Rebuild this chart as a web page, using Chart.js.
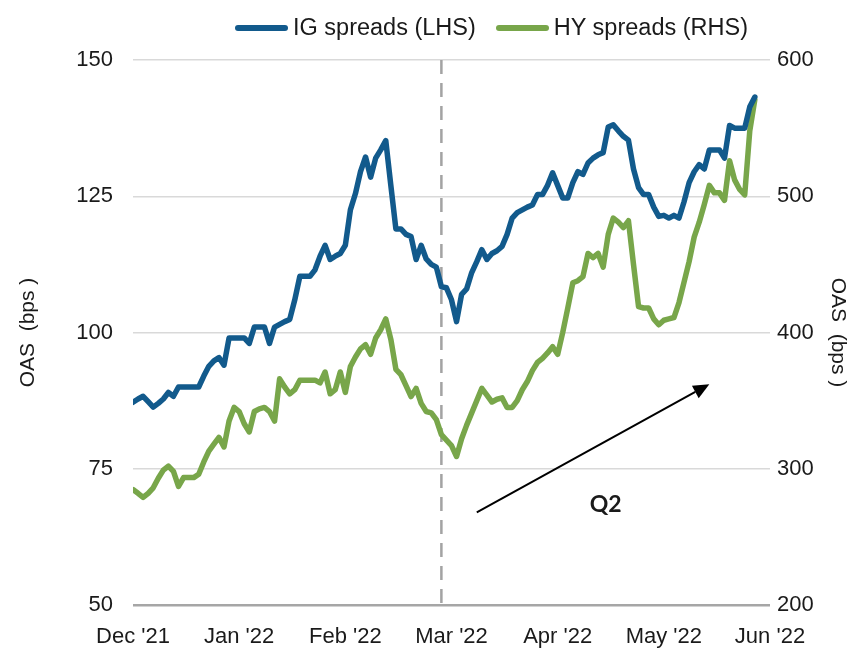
<!DOCTYPE html>
<html>
<head>
<meta charset="utf-8">
<script src="https://cdn.jsdelivr.net/npm/chart.js@4.4.1/dist/chart.umd.min.js"></script>
<style>
  body { margin: 0; background: #fff; }
  #caja { position: relative; width: 850px; height: 648px; }
  #leyenda {
    position: absolute; top: 14px; left: 235px;
    display: flex; align-items: center;
    font: 23.5px "Liberation Sans", Arial, sans-serif;
    color: #1a1a1a; white-space: nowrap;
  }
  .item { display: flex; align-items: center; margin-right: 20px; }
  .linea { width: 53px; height: 6px; border-radius: 3px; margin-right: 5px; }
</style>
</head>
<body>
<div id="caja">
  <canvas id="lienzoGrafica" width="850" height="648"></canvas>
  <div id="leyenda"></div>
</div>
<script>
'use strict';

// ejes
const meses = ["Dec '21", "Jan '22", "Feb '22", "Mar '22", "Apr '22", "May '22", "Jun '22"];
const diasPorMes = 21; // dias habiles aprox. por mes
const ticksIzq = [50, 75, 100, 125, 150];
const ticksDer = [200, 300, 400, 500, 600];

// IG spreads (LHS), bps, un valor por dia habil desde Dec '21
const igOAS = [
  87.2, 87.8, 88.3, 87.3, 86.3, 87, 87.8, 89, 88.3, 90,
  90, 90, 90, 90, 92, 93.8, 94.8, 95.4, 94, 99,
  99, 99, 99, 98, 101, 101, 101, 98, 101, 101.5,
  102, 102.4, 106, 110.3, 110.3, 110.3, 111.5, 114, 116, 113.4,
  114, 114.5, 116, 122.5, 125.5, 129.5, 132.2, 128.5, 132, 133.5,
  135.2, 127, 119, 119, 118, 117.6, 113.4, 116, 113.5, 112.5,
  112, 108.4, 108.2, 106, 102, 107, 108, 111, 113, 115.2,
  113.4, 114.5, 115, 115.8, 118, 121, 122, 122.5, 123, 123.4,
  125.3, 125.3, 127, 129.3, 127, 124.7, 124.7, 127.5, 129.5, 129,
  131.1, 132, 132.6, 133, 137.7, 138.1, 137, 136, 135.3, 130,
  126.6, 125.3, 125.3, 123, 121.3, 121.5, 121, 121.5, 121, 124,
  127.5, 129.5, 130.8, 130, 133.5, 133.5, 133.5, 132, 138, 137.5,
  137.5, 137.5, 141.4, 143.2
];

// HY spreads (RHS), bps
const hyOAS = [
  284.7, 282, 279, 282, 286, 293, 299, 302, 298, 287,
  293.5, 293.5, 293.5, 296, 305, 313, 318, 323, 316, 335,
  345, 342, 333, 327, 342, 344, 345, 342, 335, 366,
  360, 355, 358, 365, 365, 365, 365, 363, 371, 355,
  358, 371, 356, 375, 382, 388, 391, 384, 396, 402,
  410, 395, 373, 369, 361, 353, 359, 348, 342, 341,
  336, 325, 321, 317, 309, 322, 332, 341, 350, 359,
  354, 349, 351, 352, 345, 345, 350, 358, 364, 372,
  378, 381, 385, 389.6, 384, 400, 418, 436.5, 438, 441,
  458, 455, 458, 448, 472, 484, 481, 477, 482, 450,
  419, 418, 418, 410, 405.7, 409, 410, 411, 422, 437,
  452, 470, 481, 494, 508, 502.5, 502.5, 497, 526, 512,
  505, 501, 548, 571
];

// anotaciones (dia habil, valor eje izq.)
const lineaMarzo = 61;
const flechaDesde = [68, 67];
const flechaHasta = [114, 90.5];
const textoQ2 = [93.5, 68.5];

const colorIG = '#125a8c';
const colorHY = '#78a64a';
const fuente = '"Liberation Sans", Arial, sans-serif';

const series = [
  { label: 'IG spreads (LHS)', data: igOAS, color: colorIG, eje: 'y' },
  { label: 'HY spreads (RHS)', data: hyOAS, color: colorHY, eje: 'y1' }
];

// leyenda
const leyenda = document.getElementById('leyenda');
series.forEach(s => {
  const item = document.createElement('div');
  item.className = 'item';
  item.innerHTML = '<span class="linea" style="background:' + s.color + '"></span>' + s.label;
  leyenda.appendChild(item);
});

const extras = {
  id: 'extras',
  beforeDatasetsDraw(chart) {
    const { ctx, chartArea, scales } = chart;
    const px = scales.x.getPixelForValue(lineaMarzo);
    ctx.save();
    ctx.strokeStyle = '#a3a3a3';
    ctx.lineWidth = 2.5;
    ctx.setLineDash([14, 9]);
    ctx.beginPath();
    ctx.moveTo(px, chartArea.top);
    ctx.lineTo(px, chartArea.bottom);
    ctx.stroke();
    ctx.restore();
  },
  afterDatasetsDraw(chart) {
    const { ctx, scales } = chart;
    const x1 = scales.x.getPixelForValue(flechaDesde[0]);
    const y1 = scales.y.getPixelForValue(flechaDesde[1]);
    const x2 = scales.x.getPixelForValue(flechaHasta[0]);
    const y2 = scales.y.getPixelForValue(flechaHasta[1]);
    const ang = Math.atan2(y2 - y1, x2 - x1);
    const largo = 16, ancho = 7;
    ctx.save();
    ctx.strokeStyle = '#000';
    ctx.fillStyle = '#000';
    ctx.lineWidth = 2;
    ctx.beginPath();
    ctx.moveTo(x1, y1);
    ctx.lineTo(x2 - Math.cos(ang) * largo, y2 - Math.sin(ang) * largo);
    ctx.stroke();
    ctx.beginPath();
    ctx.moveTo(x2, y2);
    ctx.lineTo(x2 - Math.cos(ang) * largo + Math.sin(ang) * ancho, y2 - Math.sin(ang) * largo - Math.cos(ang) * ancho);
    ctx.lineTo(x2 - Math.cos(ang) * largo - Math.sin(ang) * ancho, y2 - Math.sin(ang) * largo + Math.cos(ang) * ancho);
    ctx.closePath();
    ctx.fill();

    ctx.font = 'bold 23px Lato, "Open Sans", sans-serif';
    ctx.textAlign = 'center';
    ctx.textBaseline = 'middle';
    ctx.fillStyle = '#1a1a1a';
    ctx.fillText('Q2', scales.x.getPixelForValue(textoQ2[0]), scales.y.getPixelForValue(textoQ2[1]));
    ctx.restore();
  }
};

const ctx = document.getElementById('lienzoGrafica');

new Chart(ctx, {
  type: 'line',
  data: {
    datasets: series.map(s => ({
      label: s.label,
      data: s.data.map((v, i) => ({ x: i, y: v })),
      borderColor: s.color,
      backgroundColor: s.color,
      borderWidth: 5.5,
      pointRadius: 0,
      tension: 0,
      fill: false,
      borderJoinStyle: 'round',
      borderCapStyle: 'round',
      yAxisID: s.eje
    }))
  },
  options: {
    responsive: false,
    animation: false,
    layout: { padding: { top: 60, left: 0, right: 0, bottom: 0 } },
    plugins: {
      legend: { display: false },
      tooltip: { enabled: false }
    },
    scales: {
      x: {
        type: 'linear',
        min: 0,
        max: (meses.length - 1) * diasPorMes,
        afterBuildTicks: (scale) => {
          scale.ticks = meses.map((m, i) => ({ value: i * diasPorMes }));
        },
        afterFit: (scale) => { scale.height = 43; },
        grid: { display: false },
        border: { display: false },
        ticks: {
          autoSkip: false,
          maxRotation: 0,
          padding: 11,
          color: '#1a1a1a',
          font: { family: fuente, size: 22 },
          callback: (v) => meses[Math.round(v / diasPorMes)]
        }
      },
      y: {
        position: 'left',
        min: 50,
        max: 150,
        afterBuildTicks: (scale) => {
          scale.ticks = ticksIzq.map(v => ({ value: v }));
        },
        afterFit: (scale) => { scale.width = 133; },
        border: { display: false },
        grid: {
          drawTicks: false,
          color: (c) => c.tick && c.tick.value === 50 ? '#a6a6a6' : '#d9d9d9',
          lineWidth: (c) => c.tick && c.tick.value === 50 ? 2.5 : 1.5
        },
        ticks: {
          padding: 20,
          color: '#1a1a1a',
          font: { family: fuente, size: 22 }
        },
        title: {
          display: true,
          text: 'OAS  (bps )',
          color: '#1a1a1a',
          font: { family: fuente, size: 21 },
          padding: { top: 16, bottom: 0 }
        }
      },
      y1: {
        position: 'right',
        min: 200,
        max: 600,
        afterBuildTicks: (scale) => {
          scale.ticks = ticksDer.map(v => ({ value: v }));
        },
        afterFit: (scale) => { scale.width = 80; },
        border: { display: false },
        grid: { display: false, drawTicks: false },
        ticks: {
          padding: 7,
          color: '#1a1a1a',
          font: { family: fuente, size: 22 }
        },
        title: {
          display: true,
          text: 'OAS  (bps )',
          color: '#1a1a1a',
          font: { family: fuente, size: 21 },
          padding: { top: 0, bottom: 0 }
        }
      }
    }
  },
  plugins: [extras]
});
</script>
</body>
</html>
